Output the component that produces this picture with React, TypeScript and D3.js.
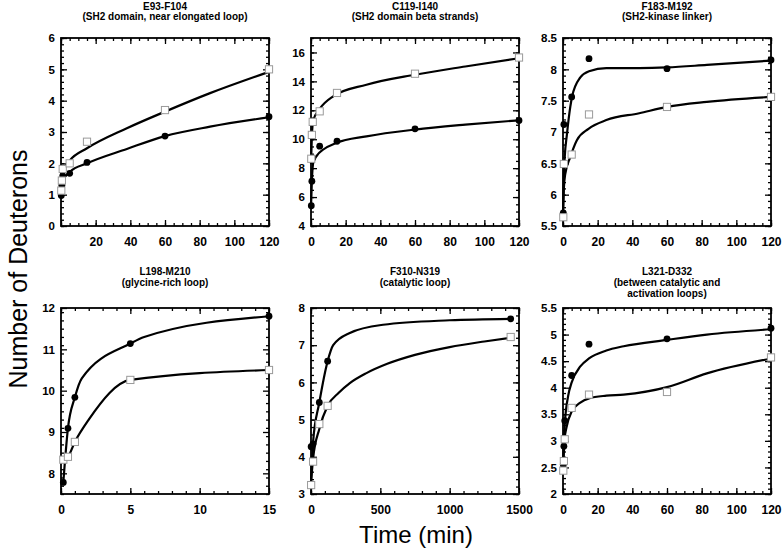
import React, { useEffect, useRef } from 'react';
import * as d3 from 'd3';

// ---- data (time in min, number of deuterons) ----
const titles = [
  ['E93-F104', '(SH2 domain, near elongated loop)'],
  ['C119-I140', '(SH2 domain beta strands)'],
  ['F183-M192', '(SH2-kinase linker)'],
  ['L198-M210', '(glycine-rich loop)'],
  ['F310-N319', '(catalytic loop)'],
  ['L321-D332', '(between catalytic and', 'activation loops)'],
];

const p1Times = [0.167, 0.5, 1, 5, 15, 60, 120];
const p1Filled = [0.97, 1.3, 1.6, 1.68, 2.03, 2.87, 3.49];
const p1Open = [1.13, 1.45, 1.82, 2.0, 2.69, 3.7, 5.0];
const p1FilledFit: [number, number][] = [[0, 0.95], [0.5, 1.25], [1.3, 1.47], [5.2, 1.73], [15, 2.0], [38, 2.46], [60, 2.87], [86, 3.17], [120, 3.47]];
const p1OpenFit: [number, number][] = [[0, 1.1], [0.5, 1.55], [1.3, 1.79], [5.2, 2.1], [15, 2.48], [38, 3.12], [60, 3.65], [86, 4.24], [120, 4.92]];

const p2Times = [0.167, 0.5, 1, 5, 15, 60, 120];
const p2Filled = [5.4, 7.1, 8.7, 9.52, 9.86, 10.72, 11.3];
const p2Open = [8.65, 10.3, 11.2, 11.93, 13.2, 14.53, 15.65];
const p2FilledFit: [number, number][] = [[0, 5.3], [0.5, 7.1], [1.3, 8.37], [3.3, 8.85], [7.1, 9.29], [14.7, 9.75], [32, 10.2], [60, 10.67], [89, 11.01], [120, 11.31]];
const p2OpenFit: [number, number][] = [[0, 8.3], [0.5, 10.2], [1.3, 11.3], [5, 12.1], [12.8, 12.97], [32, 13.77], [60, 14.46], [89, 15.03], [120, 15.6]];

const p3Times = [0.167, 0.5, 5, 15, 60, 120];
const p3Filled = [5.71, 7.12, 7.56, 8.17, 8.01, 8.15];
const p3Open = [5.64, 6.49, 6.64, 7.28, 7.4, 7.56];
const p3FilledFit: [number, number][] = [[0, 5.71], [0.5, 6.3], [1, 6.6], [2.3, 6.97], [4.2, 7.4], [5.2, 7.56], [10, 7.87], [15, 7.97], [25, 8.02], [44, 8.02], [60, 8.03], [83, 8.07], [120, 8.14]];
const p3OpenFit: [number, number][] = [[0, 5.65], [0.5, 6.1], [1.3, 6.33], [4.2, 6.6], [8, 6.87], [14.7, 7.05], [25, 7.19], [44, 7.3], [60, 7.4], [83, 7.48], [120, 7.56]];

const p4Times = [0.167, 0.5, 1, 5, 15];
const p4Filled = [7.78, 9.09, 9.84, 11.14, 11.8];
const p4Open = [8.33, 8.4, 8.76, 10.26, 10.5];
const p4FilledFit: [number, number][] = [[0.167, 7.78], [0.5, 9.09], [1, 9.84], [1.5, 10.3], [5, 11.14], [6, 11.3], [15, 11.8]];
const p4OpenFit: [number, number][] = [[0.167, 8.33], [0.5, 8.4], [1, 8.76], [2, 9.3], [5, 10.26], [15, 10.5]];

const p5Times = [1, 15, 60, 120, 1440];
const p5Filled = [4.27, 4.35, 5.46, 6.57, 7.71];
const p5Open = [3.24, 3.87, 4.88, 5.37, 7.22];
const p5FilledFit: [number, number][] = [[0, 3.3], [15, 4.4], [60, 5.46], [120, 6.57], [160, 7.0], [280, 7.33], [520, 7.55], [1000, 7.67], [1440, 7.71]];
const p5OpenFit: [number, number][] = [[0, 3.3], [15, 3.95], [60, 4.75], [120, 5.37], [200, 5.72], [280, 5.98], [400, 6.25], [550, 6.5], [750, 6.74], [1000, 6.95], [1250, 7.1], [1440, 7.2]];

const p6Times = [0.167, 0.5, 1, 5, 15, 60, 120];
const p6Filled = [2.55, 2.9, 3.38, 4.23, 4.82, 4.92, 5.12];
const p6Open = [2.44, 2.62, 3.03, 3.62, 3.87, 3.92, 4.57];
const p6FilledFit: [number, number][] = [[0, 2.5], [1, 3.3], [3, 3.85], [5, 4.1], [10, 4.4], [15, 4.55], [25, 4.7], [35, 4.78], [60, 4.9], [83, 5.0], [120, 5.1]];
const p6OpenFit: [number, number][] = [[0, 2.45], [1, 3.05], [2, 3.25], [5, 3.55], [10, 3.72], [15, 3.8], [25, 3.85], [35, 3.87], [60, 4.01], [83, 4.27], [120, 4.55]];

// axis settings: [min, max, major step, minor step]
const xAxes = [
  [0, 120, 20, 5], [0, 120, 20, 5], [0, 120, 20, 5],
  [0, 15, 5, 1], [0, 1500, 500, 100], [0, 120, 20, 5],
];
const yAxes = [
  [0, 6, 1, 0.2], [4, 17, 2, 0.5], [5.5, 8.5, 0.5, 0.1],
  [7.5, 12, 1, 0.2], [3, 8, 1, 0.2], [2, 5.5, 0.5, 0.1],
];
const yMajorStart = [0, 4, 5.5, 8, 3, 2];

const panels = [
  { times: p1Times, filled: p1Filled, open: p1Open, filledFit: p1FilledFit, openFit: p1OpenFit },
  { times: p2Times, filled: p2Filled, open: p2Open, filledFit: p2FilledFit, openFit: p2OpenFit },
  { times: p3Times, filled: p3Filled, open: p3Open, filledFit: p3FilledFit, openFit: p3OpenFit },
  { times: p4Times, filled: p4Filled, open: p4Open, filledFit: p4FilledFit, openFit: p4OpenFit },
  { times: p5Times, filled: p5Filled, open: p5Open, filledFit: p5FilledFit, openFit: p5OpenFit },
  { times: p6Times, filled: p6Filled, open: p6Open, filledFit: p6FilledFit, openFit: p6OpenFit },
];

const FONT = '"Liberation Sans", Arial, Helvetica, sans-serif';

function steps(a: number, b: number, step: number) {
  const n = Math.round((b - a) / step);
  return d3.range(0, n + 1).map(i => +(a + i * step).toFixed(4)).filter(v => v <= b + 1e-9);
}

function App() {
  const ref = useRef<SVGSVGElement>(null);

  useEffect(() => {
    const svg = d3.select(ref.current);
    svg.selectAll('*').remove();

    const colX = [61, 311, 563];
    const rowY = [38, 308];
    const width = 208;
    const heights = [188, 186];
    const titleBase = [9.5, 275];

    panels.forEach((p, i) => {
      const col = i % 3, row = Math.floor(i / 3);
      const h = heights[row];
      const g = svg.append('g').attr('transform', `translate(${colX[col]},${rowY[row]})`);

      const [x0, x1, xMaj, xMin] = xAxes[i];
      const [y0, y1, yMaj, yMin] = yAxes[i];
      const x = d3.scaleLinear().domain([x0, x1]).range([0, width]);
      const y = d3.scaleLinear().domain([y0, y1]).range([h, 0]);

      const xMajors = steps(x0, x1, xMaj);
      const xMinors = steps(x0, x1, xMin);
      const yMajors = steps(yMajorStart[i], y1, yMaj);
      const yMinors = steps(y0, y1, yMin);

      const styleAxis = (size: number) => (sel: any) => {
        sel.select('.domain').remove();
        sel.selectAll('line').attr('stroke', '#000').attr('stroke-width', 1.3);
        sel.selectAll('text')
          .attr('font-family', FONT)
          .attr('font-size', size)
          .attr('font-weight', 'bold')
          .attr('fill', '#000');
      };
      const plain = styleAxis(11);

      // minor ticks, all four sides, pointing inward
      g.append('g').attr('transform', `translate(0,${h})`)
        .call(d3.axisBottom(x).tickValues(xMinors).tickSize(-3).tickFormat(() => '')).call(plain);
      g.append('g')
        .call(d3.axisTop(x).tickValues(xMinors).tickSize(-3).tickFormat(() => '')).call(plain);
      g.append('g')
        .call(d3.axisLeft(y).tickValues(yMinors).tickSize(-3).tickFormat(() => '')).call(plain);
      g.append('g').attr('transform', `translate(${width},0)`)
        .call(d3.axisRight(y).tickValues(yMinors).tickSize(-3).tickFormat(() => '')).call(plain);

      // major ticks
      g.append('g').attr('transform', `translate(0,${h})`)
        .call(d3.axisBottom(x).tickValues(xMajors).tickSize(-6).tickPadding(11)
          .tickFormat((d: any) => (i === 0 && d === 0 ? '' : String(d))))
        .call(styleAxis(12));
      g.append('g')
        .call(d3.axisTop(x).tickValues(xMajors).tickSize(-6).tickFormat(() => '')).call(plain);
      g.append('g')
        .call(d3.axisLeft(y).tickValues(yMajors).tickSize(-6).tickPadding(6)
          .tickFormat((d: any) => String(+(+d).toFixed(2))))
        .call(styleAxis(11.5));
      g.append('g').attr('transform', `translate(${width},0)`)
        .call(d3.axisRight(y).tickValues(yMajors).tickSize(-6).tickFormat(() => '')).call(plain);

      g.append('rect')
        .attr('width', width).attr('height', h)
        .attr('fill', 'none').attr('stroke', '#000').attr('stroke-width', 1.8);

      // fitted curves
      const line = d3.line<[number, number]>()
        .x(d => x(d[0])).y(d => y(d[1]))
        .curve(d3.curveMonotoneX);
      [p.filledFit, p.openFit].forEach(fit => {
        g.append('path').attr('d', line(fit))
          .attr('fill', 'none').attr('stroke', '#000').attr('stroke-width', 2.2);
      });

      // filled circles
      g.selectAll('.dot').data(p.times.map((t, k) => [t, p.filled[k]]))
        .join('circle')
        .attr('cx', d => x(d[0])).attr('cy', d => y(d[1])).attr('r', 3.4)
        .attr('fill', '#000');

      // open squares (drawn on top)
      g.selectAll('.sq').data(p.times.map((t, k) => [t, p.open[k]]))
        .join('rect')
        .attr('x', d => x(d[0]) - 3.6).attr('y', d => y(d[1]) - 3.6)
        .attr('width', 7.2).attr('height', 7.2)
        .attr('fill', '#fff').attr('stroke', '#9a9a9a').attr('stroke-width', 1);

      // title
      const t = svg.append('text')
        .attr('x', colX[col] + width / 2)
        .attr('y', titleBase[row])
        .attr('text-anchor', 'middle')
        .attr('font-family', FONT).attr('font-size', 10).attr('font-weight', 'bold');
      titles[i].forEach((s, k) => {
        t.append('tspan').attr('x', colX[col] + width / 2).attr('dy', k === 0 ? 0 : 10.8).text(s);
      });
    });

    svg.append('text')
      .attr('transform', 'translate(27,269) rotate(-90)')
      .attr('text-anchor', 'middle')
      .attr('font-family', FONT).attr('font-size', 25)
      .text('Number of Deuterons');

    svg.append('text')
      .attr('x', 416).attr('y', 543)
      .attr('text-anchor', 'middle')
      .attr('font-family', FONT).attr('font-size', 24)
      .text('Time (min)');
  }, []);

  return (
    <svg ref={ref} width={783} height={554}
      style={{ position: 'absolute', left: 0, top: 0, background: '#fff' }} />
  );
}

export default App;
